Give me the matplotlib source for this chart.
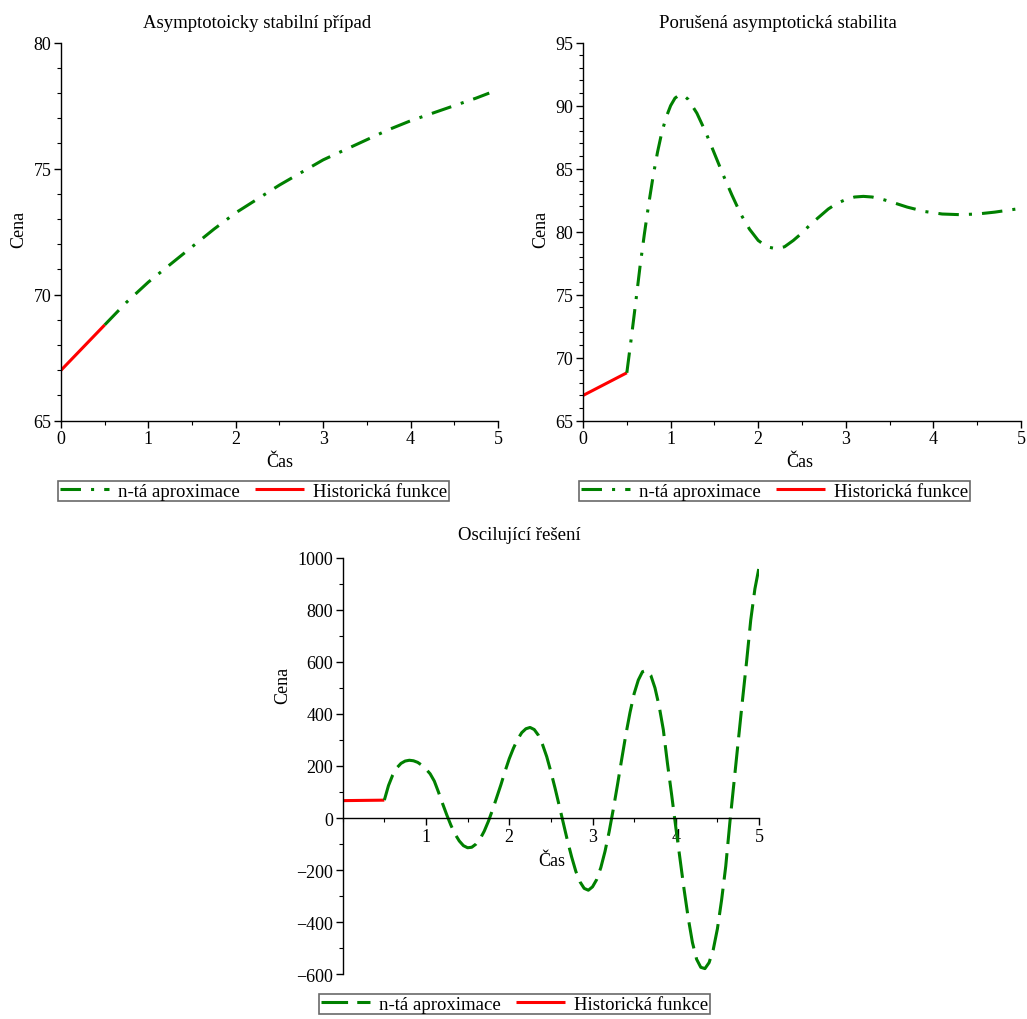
import matplotlib
matplotlib.use("Agg")
import matplotlib.pyplot as plt
from matplotlib.ticker import MultipleLocator

plt.rcParams["font.family"] = ["Liberation Serif", "DejaVu Serif"]

GREEN = "#008000"
RED = "#ff0000"

# Historical function (same in all three cases)
hist_t = [0.0, 0.5]
hist_y = [67.0, 68.8]

# Case 1: asymptotically stable
t1 = [0.5, 0.75, 1.0, 1.25, 1.5, 1.75, 2.0, 2.25, 2.5, 2.75, 3.0,
      3.25, 3.5, 3.75, 4.0, 4.25, 4.5, 4.75, 4.9]
y1 = [68.8, 69.7, 70.5, 71.2, 71.9, 72.6, 73.25, 73.8, 74.35, 74.85, 75.35,
      75.75, 76.15, 76.55, 76.9, 77.2, 77.5, 77.8, 78.0]

# Case 2: broken asymptotic stability
t2 = [0.5, 0.55, 0.6, 0.65, 0.7, 0.75, 0.8, 0.85, 0.9, 0.95, 1.0, 1.05,
      1.1, 1.15, 1.2, 1.3, 1.4, 1.5, 1.6, 1.7, 1.8, 1.9, 2.0, 2.1, 2.2,
      2.3, 2.4, 2.5, 2.6, 2.7, 2.8, 2.9, 3.0, 3.1, 3.2, 3.3, 3.4, 3.5,
      3.7, 3.9, 4.1, 4.3, 4.5, 4.7, 5.0]
y2 = [68.8, 71.5, 74.3, 77.2, 79.8, 82.2, 84.4, 86.3, 87.9, 89.1, 90.0, 90.6,
      90.85, 90.8, 90.5, 89.4, 87.9, 86.2, 84.5, 82.9, 81.4, 80.2, 79.3, 78.8, 78.65,
      78.8, 79.3, 79.9, 80.6, 81.2, 81.8, 82.25, 82.55, 82.75, 82.8, 82.75, 82.6, 82.4,
      81.95, 81.6, 81.4, 81.35, 81.4, 81.55, 81.85]

# Case 3: oscillating solution
t3 = [0.5, 0.55, 0.6, 0.65, 0.7, 0.75, 0.8, 0.85, 0.9, 0.95, 1.0, 1.05, 1.1,
      1.15, 1.2, 1.25, 1.3, 1.35, 1.4, 1.45, 1.5, 1.55, 1.6, 1.65, 1.7, 1.75,
      1.8, 1.85, 1.9, 1.95, 2.0, 2.05, 2.1, 2.15, 2.2, 2.25, 2.3, 2.35, 2.4,
      2.45, 2.5, 2.55, 2.6, 2.65, 2.7, 2.75, 2.8, 2.85, 2.9, 2.95, 3.0, 3.05,
      3.1, 3.15, 3.2, 3.25, 3.3, 3.35, 3.4, 3.45, 3.5, 3.55, 3.6, 3.65, 3.7,
      3.75, 3.8, 3.85, 3.9, 3.95, 4.0, 4.05, 4.1, 4.15, 4.2, 4.25, 4.3, 4.35,
      4.4, 4.45, 4.5, 4.55, 4.6, 4.65, 4.7, 4.75, 4.8, 4.85, 4.9, 4.95, 5.0]
y3 = [69, 125, 165, 193, 210, 219, 222, 220, 214, 203, 188, 170, 142,
      100, 55, 12, -28, -62, -88, -106, -114, -112, -100, -80, -50, -12,
      32, 80, 128, 180, 228, 268, 302, 328, 343, 348, 340, 318, 282,
      236, 178, 115, 48, -20, -88, -150, -205, -245, -270, -277, -264, -236,
      -190, -128, -52, 35, 128, 225, 320, 405, 478, 530, 562, 567, 548,
      500, 430, 340, 210, 90, -35, -155, -275, -385, -478, -542, -573, -578,
      -555, -505, -425, -315, -185, -15, 140, 295, 450, 600, 760, 880, 963]

LEGEND_LABELS = ["n-tá aproximace", "Historická funkce"]


def style_axes(ax):
    for side in ["top", "right"]:
        ax.spines[side].set_visible(False)
    for side in ["left", "bottom"]:
        ax.spines[side].set_linewidth(1.0)
    ax.tick_params(which="major", direction="out", length=5, width=1,
                   labelsize=13, pad=2)
    ax.tick_params(which="minor", direction="out", length=3, width=0.8)


fig = plt.figure(figsize=(10.27, 10.20), dpi=100)

# --- top left ---
ax1 = fig.add_axes([0.0594, 0.5866, 0.4255, 0.3706])
ax1.plot(hist_t, hist_y, color=RED, lw=2.2, solid_capstyle="butt")
ax1.plot(t1, y1, color=GREEN, lw=2.2, dashes=(6.7, 3.3, 1, 3.3))
ax1.set_xlim(0, 5)
ax1.set_ylim(65, 80)
ax1.xaxis.set_major_locator(MultipleLocator(1))
ax1.xaxis.set_minor_locator(MultipleLocator(0.5))
ax1.yaxis.set_major_locator(MultipleLocator(5))
ax1.yaxis.set_minor_locator(MultipleLocator(1))
style_axes(ax1)

# --- top right ---
ax2 = fig.add_axes([0.5677, 0.5866, 0.4265, 0.3706])
ax2.plot(hist_t, hist_y, color=RED, lw=2.2, solid_capstyle="butt")
ax2.plot(t2, y2, color=GREEN, lw=2.2, dashes=(6.7, 3.3, 1, 3.3))
ax2.set_xlim(0, 5)
ax2.set_ylim(65, 95)
ax2.xaxis.set_major_locator(MultipleLocator(1))
ax2.xaxis.set_minor_locator(MultipleLocator(0.5))
ax2.yaxis.set_major_locator(MultipleLocator(5))
ax2.yaxis.set_minor_locator(MultipleLocator(1))
style_axes(ax2)

# --- bottom ---
ax3 = fig.add_axes([0.3337, 0.0438, 0.4054, 0.4085])
ax3.plot(hist_t, hist_y, color=RED, lw=2.2, solid_capstyle="butt")
ax3.plot(t3, y3, color=GREEN, lw=2.2, dashes=(8.7, 3.0))
ax3.set_xlim(0, 5)
ax3.set_ylim(-600, 1000)
ax3.xaxis.set_major_locator(MultipleLocator(1))
ax3.xaxis.set_minor_locator(MultipleLocator(0.5))
ax3.yaxis.set_major_locator(MultipleLocator(200))
ax3.yaxis.set_minor_locator(MultipleLocator(100))
style_axes(ax3)
ax3.spines["bottom"].set_position(("data", 0))
ax3.set_xticks([1, 2, 3, 4, 5])
ax3.set_xticklabels(["1", "2", "3", "4", "5"])

# titles and axis labels
fig.text(0.250, 0.977, "Asymptotoicky stabilní případ", ha="center", va="center", fontsize=13.5)
fig.text(0.757, 0.977, "Porušená asymptotická stabilita", ha="center", va="center", fontsize=13.5)
fig.text(0.506, 0.475, "Oscilující řešení", ha="center", va="center", fontsize=13.5)

for x, y in [(0.018, 0.775), (0.527, 0.775), (0.275, 0.328)]:
    fig.text(x, y, "Cena", rotation=90, ha="center", va="center", fontsize=13)
for x, y in [(0.272, 0.547), (0.779, 0.547), (0.537, 0.155)]:
    fig.text(x, y, "Čas", ha="center", va="center", fontsize=13)

# legends
for ax, cx, cy in [(ax1, 0.2468, 0.5176), (ax2, 0.7541, 0.5176), (ax3, 0.501, 0.0147)]:
    lines = ax.get_lines()
    leg = fig.legend([lines[1], lines[0]], LEGEND_LABELS, loc="center",
                     bbox_to_anchor=(cx, cy), ncol=2, fontsize=13.5,
                     frameon=True, fancybox=False, edgecolor="#444444",
                     handlelength=2.6, handletextpad=0.5, columnspacing=0.8,
                     borderpad=0.1, borderaxespad=0)
    leg.get_frame().set_linewidth(1.2)

fig.savefig("out.png", dpi=100)
